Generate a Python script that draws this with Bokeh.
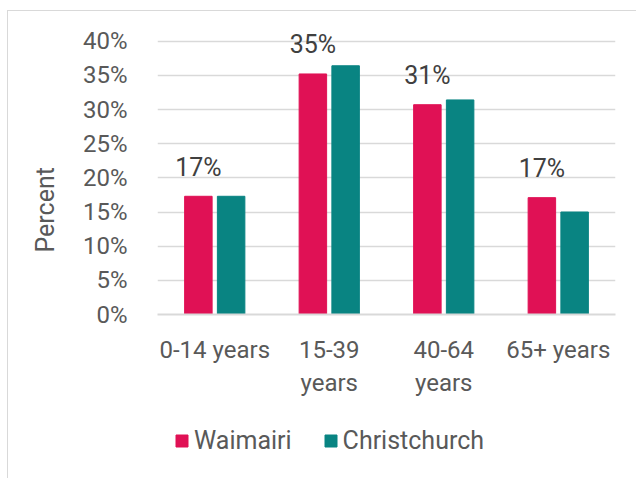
from bokeh.plotting import figure
from bokeh.layouts import column
from bokeh.models import ColumnDataSource, FactorRange, FixedTicker, PrintfTickFormatter, Legend, LegendItem, Title
from bokeh.transform import dodge
from bokeh.core.properties import value
from bokeh.embed import file_html
from bokeh.resources import INLINE

categories = ["0-14 years", "15-39\nyears", "40-64\nyears", "65+ years"]
waimairi = [17.3, 35.2, 30.7, 17.1]
christchurch = [17.3, 36.4, 31.4, 15.0]
series_names = ["Waimairi", "Christchurch"]
series_colors = ["#E01155", "#098482"]
y_ticks = [0, 5, 10, 15, 20, 25, 30, 35, 40]

FONT = "Roboto"
TXT = "#595959"

src = ColumnDataSource(dict(
    cat=categories,
    w=waimairi,
    c=christchurch,
    lab=[f"{round(v)}%" for v in waimairi],
))

p = figure(
    x_range=FactorRange(*categories), y_range=(0, 42),
    width=628, height=389, output_backend="svg", toolbar_location=None,
    min_border_left=148, min_border_right=21, min_border_top=16, min_border_bottom=85,
)
p.outline_line_color = None
p.background_fill_color = "white"

rw = p.vbar(x=dodge("cat", -0.143, range=p.x_range), top="w", width=0.24, source=src,
            fill_color=series_colors[0], line_color=series_colors[0])
rc = p.vbar(x=dodge("cat", 0.143, range=p.x_range), top="c", width=0.24, source=src,
            fill_color=series_colors[1], line_color=series_colors[1])

p.text(x=dodge("cat", -0.143, range=p.x_range), y="w", text="lab", source=src,
       text_align="center", text_baseline="alphabetic", y_offset=-29,
       text_font=value(FONT), text_font_size="25px", text_color="#404040")

p.xgrid.grid_line_color = None
p.ygrid.grid_line_color = "#d9d9d9"
p.ygrid.grid_line_width = 1.5
p.yaxis.ticker = FixedTicker(ticks=y_ticks)
p.yaxis.formatter = PrintfTickFormatter(format="%d%%")
p.yaxis.axis_line_color = None
p.yaxis.major_tick_line_color = None
p.yaxis.minor_tick_line_color = None
p.yaxis.major_label_text_font = FONT
p.yaxis.major_label_text_font_size = "24px"
p.yaxis.major_label_text_color = TXT
p.yaxis.major_label_standoff = 24

ytitle = Title(text="Percent", align="left", offset=62,
               text_font=FONT, text_font_size="25px", text_font_style="normal",
               text_color=TXT)
if "standoff" in Title.properties():
    ytitle.standoff = 40
p.add_layout(ytitle, "left")

p.xaxis.axis_line_color = "#d9d9d9"
p.xaxis.axis_line_width = 2
p.xaxis.major_tick_line_color = None
p.xaxis.minor_tick_line_color = None
p.xaxis.major_label_text_font = FONT
p.xaxis.major_label_text_font_size = "24px"
p.xaxis.major_label_text_color = TXT
p.xaxis.major_label_standoff = 15

# legend strip below the chart
lp = figure(width=628, height=78, x_range=(0, 1), y_range=(0, 1),
            x_axis_type=None, y_axis_type=None, output_backend="svg",
            toolbar_location=None, min_border=0)
lp.outline_line_color = None
lp.grid.grid_line_color = None
dw = lp.vbar(x=[-5], top=[-5], width=0.1, fill_color=series_colors[0], line_color=series_colors[0])
dc = lp.vbar(x=[-5], top=[-5], width=0.1, fill_color=series_colors[1], line_color=series_colors[1])
legend = Legend(items=[LegendItem(label=series_names[0], renderers=[dw]),
                       LegendItem(label=series_names[1], renderers=[dc])],
                orientation="horizontal", location=(17, 23))
legend.label_text_font = FONT
legend.label_text_font_size = "25px"
legend.label_text_color = TXT
legend.glyph_width = 15
legend.glyph_height = 15
legend.label_standoff = 5
legend.spacing = 31
legend.border_line_color = None
legend.background_fill_alpha = 0
legend.padding = 0
legend.margin = 0
lp.add_layout(legend)

layout = column(p, lp, styles={"border-top": "1px solid #d9d9d9",
                               "border-left": "1px solid #d9d9d9",
                               "margin-left": "7px", "margin-top": "10px"})

open("out.html", "w").write(file_html(layout, INLINE))
